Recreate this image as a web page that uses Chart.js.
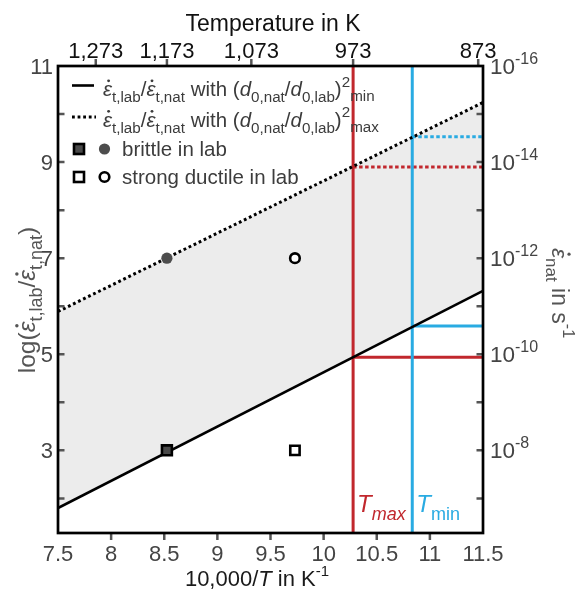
<!DOCTYPE html>
<html><head><meta charset="utf-8">
<script src="https://cdn.jsdelivr.net/npm/chart.js@4"></script>
<style>html,body{margin:0;padding:0;background:#fff}canvas{display:block}</style>
</head><body>
<canvas id="c" width="575" height="592"></canvas>
<script>
// ---- data ----
const xTicks = [7.5, 8, 8.5, 9, 9.5, 10, 10.5, 11, 11.5];
const tempTicksK = [1273, 1173, 1073, 973, 873];
const yMajor = [3, 5, 7, 9, 11];
const yMinor = [2, 4, 6, 8, 10];
const rightExp = [-8, -10, -12, -14, -16];
const lineX = [7.5, 11.5];
const minRatio = [1.80, 6.32];
const maxRatio = [5.89, 10.24];
const brittleX = [8.525], brittleSquareY = [3], brittleCircleY = [7];
const ductileX = [9.73], ductileSquareY = [3], ductileCircleY = [7];
const tMaxK = 973, tMinK = 923;
const tMaxLevels = [4.94, 8.90];
const tMinLevels = [5.59, 9.53];
const xMin = 7.5, xMax = 11.5, yMin = 1.28, yMax = 11;

const RED = '#c1272d', BLUE = '#29abe2';
const FONT = '"Liberation Sans", Arial, sans-serif';
const tMaxX = 10000 / tMaxK, tMinX = 10000 / tMinK;
const pts = (xs, ys) => xs.map((v, i) => ({x: v, y: ys[i]}));

const lineDs = (data, color, width, dash, extra) => Object.assign({
  type: 'line', data, borderColor: color, borderWidth: width, borderDash: dash || [],
  pointRadius: 0, fill: false, tension: 0
}, extra || {});

const datasets = [
  lineDs(pts(lineX, minRatio), '#000', 2.6, [], {order: 1}),
  lineDs(pts(lineX, maxRatio), '#000', 3, [2.8, 2.8], {order: 1, fill: '-1', backgroundColor: '#ececec'}),
  lineDs([{x: tMaxX, y: yMin}, {x: tMaxX, y: yMax}], RED, 3, [], {order: 2}),
  lineDs([{x: tMinX, y: yMin}, {x: tMinX, y: yMax}], BLUE, 3, [], {order: 2}),
  lineDs([{x: tMaxX, y: tMaxLevels[0]}, {x: xMax, y: tMaxLevels[0]}], RED, 3, [], {order: 3}),
  lineDs([{x: tMaxX, y: tMaxLevels[1]}, {x: xMax, y: tMaxLevels[1]}], RED, 3, [3.5, 2.5], {order: 3}),
  lineDs([{x: tMinX, y: tMinLevels[0]}, {x: xMax, y: tMinLevels[0]}], BLUE, 3, [], {order: 3}),
  lineDs([{x: tMinX, y: tMinLevels[1]}, {x: xMax, y: tMinLevels[1]}], BLUE, 3, [3.5, 2.5], {order: 3}),
  {type: 'line', showLine: false, data: pts(brittleX, brittleSquareY), pointStyle: 'rect', pointRadius: 7,
   pointBackgroundColor: '#4a4a4a', pointBorderColor: '#000', pointBorderWidth: 2.6, order: 0},
  {type: 'line', showLine: false, data: pts(brittleX, brittleCircleY), pointStyle: 'circle', pointRadius: 5.6,
   pointBackgroundColor: '#4d4d4d', pointBorderColor: '#4d4d4d', pointBorderWidth: 0, order: 0},
  {type: 'line', showLine: false, data: pts(ductileX, ductileSquareY), pointStyle: 'rect', pointRadius: 6.6,
   pointBackgroundColor: '#fff', pointBorderColor: '#000', pointBorderWidth: 2.6, order: 0},
  {type: 'line', showLine: false, data: pts(ductileX, ductileCircleY), pointStyle: 'circle', pointRadius: 4.8,
   pointBackgroundColor: '#fff', pointBorderColor: '#000', pointBorderWidth: 2.6, order: 0},
];

// rich text helpers
function segFont(s, base) {
  return (s.it ? 'italic ' : '') + (s.sz || base) + 'px ' + FONT;
}
function richWidth(ctx, segs, base) {
  let w = 0;
  for (const s of segs) { ctx.font = segFont(s, base); w += ctx.measureText(s.t).width; }
  return w;
}
function drawRich(ctx, x, y, segs, base, color) {
  for (const s of segs) {
    ctx.font = segFont(s, base);
    ctx.fillStyle = s.color || color;
    const w = ctx.measureText(s.t).width;
    ctx.fillText(s.t, x, y + (s.dy || 0));
    if (s.dot) {
      const sz = s.sz || base;
      ctx.beginPath();
      ctx.arc(x + w * 0.62, y + (s.dy || 0) - sz * 0.74, sz * 0.07, 0, Math.PI * 2);
      ctx.fill();
    }
    x += w;
  }
  return x;
}

const decor = {
  id: 'decor',
  afterDraw(chart) {
    const {ctx, chartArea: a, scales: {x, y}} = chart;
    ctx.save();
    ctx.textBaseline = 'alphabetic';
    // tick marks
    ctx.strokeStyle = '#555'; ctx.lineWidth = 2.5;
    ctx.beginPath();
    for (const v of yMajor.concat(yMinor)) {
      if (v >= yMax) continue;
      const py = y.getPixelForValue(v);
      ctx.moveTo(a.left, py); ctx.lineTo(a.left + 6.5, py);
      ctx.moveTo(a.right, py); ctx.lineTo(a.right - 6.5, py);
    }
    for (const v of xTicks) {
      if (v <= xMin || v >= xMax) continue;
      const px = x.getPixelForValue(v);
      ctx.moveTo(px, a.bottom); ctx.lineTo(px, a.bottom + 7);
    }
    for (const T of tempTicksK) {
      const px = x.getPixelForValue(10000 / T);
      ctx.moveTo(px, a.top); ctx.lineTo(px, a.top - 7);
    }
    ctx.stroke();
    // frame
    ctx.strokeStyle = '#000'; ctx.lineWidth = 2.7;
    ctx.strokeRect(a.left, a.top, a.right - a.left, a.bottom - a.top);

    // tick labels
    ctx.font = '22px ' + FONT;
    ctx.fillStyle = '#444'; ctx.textAlign = 'center';
    for (const v of xTicks) ctx.fillText(String(v), x.getPixelForValue(v), 561);
    ctx.fillStyle = '#111';
    for (const T of tempTicksK) ctx.fillText(T.toLocaleString('en-US'), x.getPixelForValue(10000 / T), 58);
    ctx.fillStyle = '#444'; ctx.textAlign = 'right';
    for (const v of yMajor) ctx.fillText(String(v), a.left - 5, y.getPixelForValue(v) + 8);
    ctx.textAlign = 'left';
    yMajor.forEach((v, i) => {
      const py = y.getPixelForValue(v) + 8;
      drawRich(ctx, a.right + 7, py, [{t: '10'}, {t: String(rightExp[i]), sz: 16, dy: -10.5}], 22.5, '#444');
    });

    // titles
    ctx.textAlign = 'left';
    const topT = [{t: 'Temperature in K'}];
    drawRich(ctx, 273 - richWidth(ctx, topT, 23) / 2, 31, topT, 23, '#111');
    const botT = [{t: '10,000/'}, {t: 'T', it: 1}, {t: ' in K'}, {t: '-1', sz: 15, dy: -10}];
    drawRich(ctx, 257 - richWidth(ctx, botT, 22) / 2, 586, botT, 22, '#1a1a1a');

    const leftT = [{t: 'log('}, {t: 'ε', it: 1, dot: 1}, {t: 't,lab', sz: 18, dy: 7}, {t: '/'},
                   {t: 'ε', it: 1, dot: 1}, {t: 't,nat', sz: 18, dy: 7}, {t: ')'}];
    ctx.save();
    ctx.translate(35, 300); ctx.rotate(-Math.PI / 2);
    drawRich(ctx, -richWidth(ctx, leftT, 24.5) / 2, 0, leftT, 24.5, '#555');
    ctx.restore();

    const rightT = [{t: 'ε', it: 1, dot: 1}, {t: 'nat', sz: 17, dy: 6.5}, {t: ' in s'}, {t: '-1', sz: 16, dy: -10.5}];
    ctx.save();
    ctx.translate(552, 293); ctx.rotate(Math.PI / 2);
    drawRich(ctx, -richWidth(ctx, rightT, 23) / 2, 0, rightT, 23, '#555');
    ctx.restore();

    // T labels
    const rx = x.getPixelForValue(tMaxX), bx = x.getPixelForValue(tMinX);
    drawRich(ctx, rx + 4, 512, [{t: 'T', it: 1, sz: 24}, {t: 'max', it: 1, sz: 18, dy: 8}], 24, RED);
    drawRich(ctx, bx + 4, 512, [{t: 'T', it: 1, sz: 24}, {t: 'min', sz: 18, dy: 8}], 24, BLUE);

    // legend
    const LC = '#3c3c3c', B = 20.5, S = 15.2;
    ctx.strokeStyle = '#000'; ctx.lineWidth = 2.6; ctx.setLineDash([]);
    ctx.beginPath(); ctx.moveTo(72, 85.5); ctx.lineTo(94, 85.5); ctx.stroke();
    ctx.lineWidth = 3; ctx.setLineDash([2.8, 2.8]);
    ctx.beginPath(); ctx.moveTo(72, 117); ctx.lineTo(96, 117); ctx.stroke();
    ctx.setLineDash([]);
    const legSeg = (sub) => [
      {t: 'ε', it: 1, dot: 1}, {t: 't,lab', sz: S, dy: 6}, {t: '/'},
      {t: 'ε', it: 1, dot: 1}, {t: 't,nat', sz: S, dy: 6}, {t: ' with ('},
      {t: 'd', it: 1}, {t: '0,nat', sz: S, dy: 6}, {t: '/'},
      {t: 'd', it: 1}, {t: '0,lab', sz: S, dy: 6}, {t: ')'},
      {t: '2', sz: S, dy: -9.5}, {t: sub, sz: S, dy: 5}];
    drawRich(ctx, 103, 96, legSeg('min'), B, LC);
    drawRich(ctx, 103, 126.5, legSeg('max'), B, LC);
    // markers
    ctx.lineWidth = 2.6;
    ctx.fillStyle = '#4a4a4a'; ctx.strokeStyle = '#000';
    ctx.fillRect(74, 144, 10, 10); ctx.strokeRect(74, 144, 10, 10);
    ctx.fillStyle = '#4d4d4d';
    ctx.beginPath(); ctx.arc(104.5, 149, 5.6, 0, Math.PI * 2); ctx.fill();
    ctx.fillStyle = '#fff';
    ctx.fillRect(74, 172, 10, 10); ctx.strokeRect(74, 172, 10, 10);
    ctx.beginPath(); ctx.arc(104.5, 177, 4.8, 0, Math.PI * 2); ctx.fill(); ctx.stroke();
    drawRich(ctx, 122, 156, [{t: 'brittle in lab'}], B, LC);
    drawRich(ctx, 122, 184, [{t: 'strong ductile in lab'}], B, LC);
    ctx.restore();
  }
};

new Chart(document.getElementById('c'), {
  type: 'line',
  data: {datasets},
  options: {
    responsive: false, animation: false, parsing: true,
    layout: {padding: {left: 58, right: 92, top: 66, bottom: 59}},
    plugins: {legend: {display: false}, tooltip: {enabled: false}, filler: {drawTime: 'beforeDatasetsDraw'}},
    scales: {
      x: {type: 'linear', min: xMin, max: xMax, display: false},
      y: {type: 'linear', min: yMin, max: yMax, display: false}
    }
  },
  plugins: [decor]
});
</script>
</body></html>
